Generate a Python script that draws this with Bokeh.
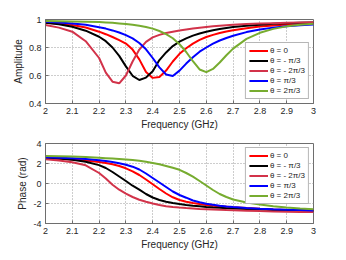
from bokeh.plotting import figure
from bokeh.models import FixedTicker, Legend, LegendItem, Range1d
from bokeh.layouts import column
from bokeh.embed import file_html
from bokeh.resources import INLINE

# ---------------- data ----------------
freq = [2.0, 2.05, 2.1, 2.15, 2.2, 2.225, 2.25, 2.275, 2.3, 2.325, 2.35, 2.375,
        2.4, 2.425, 2.45, 2.475, 2.5, 2.525, 2.55, 2.575, 2.6, 2.625, 2.65,
        2.675, 2.7, 2.75, 2.8, 2.85, 2.9, 2.95, 3.0]

series_labels = ["θ = 0", "θ = - π/3", "θ = - 2π/3", "θ = π/3", "θ = 2π/3"]
series_colors = ["#ff0000", "#000000", "#d2334a", "#0000ff", "#77ac30"]

amp_theta_0 = [0.976, 0.97, 0.96, 0.943, 0.913, 0.895, 0.875, 0.853, 0.828, 0.785, 0.715, 0.625,
               0.583, 0.59, 0.635, 0.70, 0.755, 0.795, 0.828, 0.855, 0.875, 0.89, 0.903,
               0.914, 0.923, 0.938, 0.95, 0.958, 0.965, 0.97, 0.974]
amp_theta_m1 = [0.976, 0.966, 0.948, 0.92, 0.877, 0.845, 0.80, 0.74, 0.665, 0.598, 0.568, 0.585,
                0.63, 0.71, 0.765, 0.81, 0.842, 0.865, 0.885, 0.90, 0.912, 0.923, 0.932,
                0.94, 0.946, 0.956, 0.963, 0.969, 0.973, 0.976, 0.979]
amp_theta_m2 = [0.96, 0.942, 0.913, 0.845, 0.725, 0.62, 0.556, 0.544, 0.60, 0.70, 0.785, 0.84,
                0.872, 0.89, 0.903, 0.913, 0.921, 0.928, 0.935, 0.941, 0.947, 0.952, 0.956,
                0.959, 0.962, 0.967, 0.971, 0.974, 0.977, 0.979, 0.981]
amp_theta_p1 = [0.984, 0.979, 0.972, 0.962, 0.945, 0.935, 0.922, 0.907, 0.888, 0.865, 0.832, 0.787,
                0.725, 0.658, 0.607, 0.597, 0.635, 0.685, 0.73, 0.77, 0.80, 0.827, 0.85,
                0.868, 0.884, 0.91, 0.928, 0.942, 0.952, 0.959, 0.965]
amp_theta_p2 = [0.99, 0.988, 0.986, 0.984, 0.982, 0.979, 0.976, 0.972, 0.968, 0.962, 0.955, 0.946,
                0.935, 0.918, 0.896, 0.866, 0.824, 0.768, 0.702, 0.643, 0.624, 0.647, 0.693,
                0.745, 0.792, 0.862, 0.905, 0.933, 0.951, 0.962, 0.969]

phase_theta_0 = [2.55, 2.48, 2.4, 2.3, 2.16, 2.05, 1.92, 1.75, 1.52, 1.22, 0.85, 0.4,
                 -0.08, -0.55, -1.0, -1.38, -1.65, -1.83, -1.96, -2.06, -2.15, -2.22, -2.28,
                 -2.33, -2.38, -2.46, -2.53, -2.59, -2.64, -2.68, -2.72]
phase_theta_m1 = [2.58, 2.5, 2.38, 2.18, 1.84, 1.55, 1.15, 0.7, 0.25, -0.22, -0.62, -1.05,
                  -1.4, -1.65, -1.82, -1.95, -2.05, -2.14, -2.22, -2.28, -2.34, -2.39, -2.43,
                  -2.47, -2.5, -2.56, -2.61, -2.66, -2.7, -2.73, -2.76]
phase_theta_m2 = [2.42, 2.3, 2.12, 1.82, 1.05, 0.5, -0.12, -0.62, -1.02, -1.35, -1.62, -1.83,
                  -2.0, -2.15, -2.27, -2.35, -2.41, -2.46, -2.5, -2.54, -2.57, -2.6, -2.63,
                  -2.66, -2.68, -2.72, -2.76, -2.79, -2.82, -2.84, -2.86]
phase_theta_p1 = [2.62, 2.58, 2.52, 2.44, 2.32, 2.24, 2.14, 2.03, 1.88, 1.68, 1.4, 1.0,
                  0.55, 0.1, -0.35, -0.8, -1.15, -1.42, -1.7, -1.88, -2.02, -2.13, -2.22,
                  -2.3, -2.36, -2.45, -2.52, -2.58, -2.62, -2.66, -2.7]
phase_theta_p2 = [2.74, 2.72, 2.69, 2.64, 2.57, 2.53, 2.49, 2.45, 2.41, 2.35, 2.28, 2.18,
                  2.06, 1.92, 1.75, 1.57, 1.37, 1.05, 0.68, 0.25, -0.2, -0.65, -1.05,
                  -1.35, -1.6, -1.9, -2.1, -2.27, -2.4, -2.5, -2.58]

x_ticks = [2.0, 2.1, 2.2, 2.3, 2.4, 2.5, 2.6, 2.7, 2.8, 2.9, 3.0]
x_tick_labels = ["2", "2.1", "2.2", "2.3", "2.4", "2.5", "2.6", "2.7", "2.8", "2.9", "3"]
amp_ticks = [0.4, 0.6, 0.8, 1.0]
amp_tick_labels = ["0.4", "0.6", "0.8", "1"]
phase_ticks = [-4, -2, 0, 2, 4]
phase_tick_labels = ["-4", "-2", "0", "2", "4"]

amp_series = [amp_theta_0, amp_theta_m1, amp_theta_m2, amp_theta_p1, amp_theta_p2]
phase_series = [phase_theta_0, phase_theta_m1, phase_theta_m2, phase_theta_p1, phase_theta_p2]

FONT = "Liberation Sans"
TXT = "#262626"
AX = "#6e6e6e"


def style(p, yticks, ylabels, ytitle):
    p.xaxis.ticker = FixedTicker(ticks=x_ticks)
    p.xaxis.major_label_overrides = dict(zip(x_ticks, x_tick_labels))
    p.yaxis.ticker = FixedTicker(ticks=yticks)
    p.yaxis.major_label_overrides = dict(zip(yticks, ylabels))
    p.xaxis.axis_label = "Frequency (GHz)"
    p.yaxis.axis_label = ytitle
    for ax in (p.xaxis, p.yaxis):
        ax.axis_label_text_font = FONT
        ax.axis_label_text_font_size = "10px"
        ax.axis_label_text_font_style = "normal"
        ax.axis_label_text_color = TXT
        ax.major_label_text_font = FONT
        ax.major_label_text_font_size = "9px"
        ax.major_label_text_color = TXT
        ax.axis_line_color = AX
        ax.major_tick_line_color = AX
        ax.major_tick_in = 3
        ax.major_tick_out = 0
        ax.minor_tick_line_color = None
        ax.major_label_standoff = 4
        ax.axis_label_standoff = 2
    p.grid.grid_line_color = "#9a9a9a"
    p.grid.grid_line_dash = "1 2"
    p.grid.grid_line_width = 1
    p.outline_line_color = AX
    p.outline_line_alpha = 1
    p.background_fill_color = "white"
    p.border_fill_color = "white"


def add_lines(p, ys, loc):
    items = []
    for y, c, lab in zip(ys, series_colors, series_labels):
        r = p.line(freq, y, line_color=c, line_width=2)
        items.append(LegendItem(label=lab, renderers=[r]))
    leg = Legend(items=items, location=loc)
    leg.label_text_font = FONT
    leg.label_text_font_size = "8px"
    leg.label_text_color = TXT
    leg.label_height = 9
    leg.glyph_height = 9
    leg.glyph_width = 19
    leg.label_standoff = 2
    leg.spacing = 1
    leg.padding = 3
    leg.margin = 4
    leg.border_line_color = AX
    leg.background_fill_alpha = 1
    p.add_layout(leg)


p1 = figure(width=338, height=135, x_range=Range1d(2, 3), y_range=Range1d(0.4, 1),
            output_backend="svg", toolbar_location=None,
            min_border_left=45, min_border_right=25, min_border_top=19, min_border_bottom=32)
style(p1, amp_ticks, amp_tick_labels, "Amplitude")
add_lines(p1, amp_series, "bottom_right")

p2 = figure(width=338, height=117, x_range=Range1d(2, 3), y_range=Range1d(-4, 4),
            output_backend="svg", toolbar_location=None,
            min_border_left=45, min_border_right=25, min_border_top=8, min_border_bottom=25)
style(p2, phase_ticks, phase_tick_labels, "Phase (rad)")
add_lines(p2, phase_series, "top_right")

layout = column(p1, p2, spacing=0)
open("out.html", "w").write(file_html(layout, INLINE))
